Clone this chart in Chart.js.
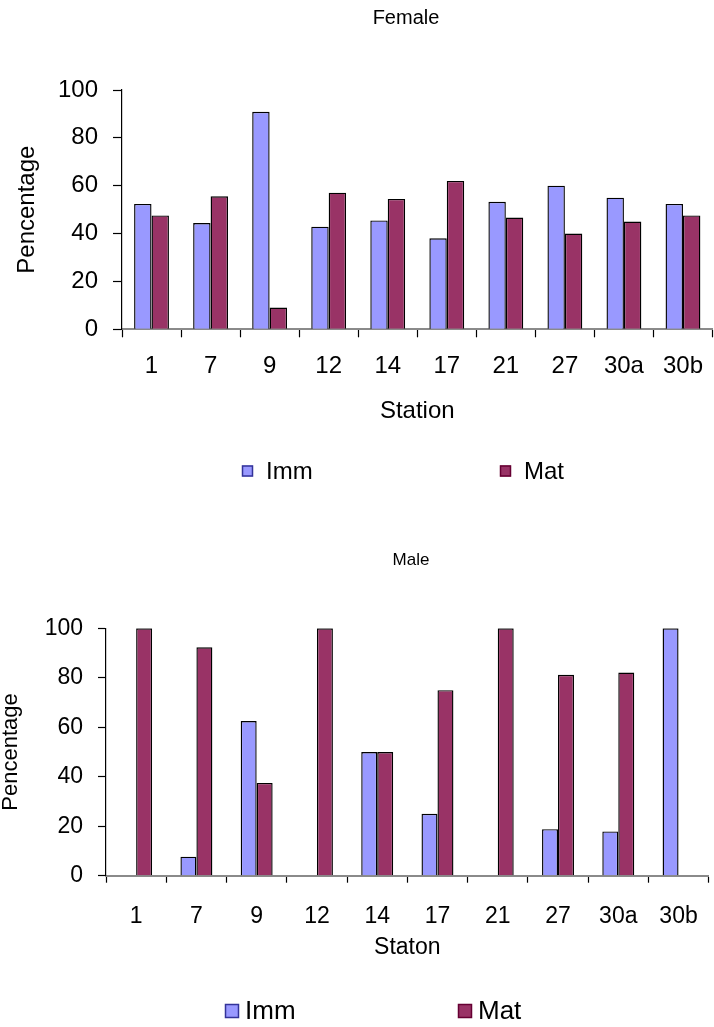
<!DOCTYPE html>
<html>
<head>
<meta charset="utf-8">
<script src="https://cdn.jsdelivr.net/npm/chart.js@4/dist/chart.umd.min.js"></script>
<style>
  html, body { margin: 0; padding: 0; background: #fff; overflow: hidden; width: 714px; height: 1027px; }
  .panel { position: absolute; left: 0; width: 718px; }
  #femalePanel { top: 0; height: 520px; }
  #malePanel { top: 540px; height: 487px; }
</style>
</head>
<body>
<div class="panel" id="femalePanel"><canvas id="female" width="718" height="520"></canvas></div>
<div class="panel" id="malePanel"><canvas id="male" width="718" height="487"></canvas></div>
<script>
// Sampling stations
const stations = ['1', '7', '9', '12', '14', '17', '21', '27', '30a', '30b'];

// Female maturity share (%) per station
const femaleImm = [52.4, 44.4, 90.9, 42.9, 45.5, 38.0, 53.3, 60.0, 55.0, 52.4];
const femaleMat = [47.6, 55.6, 9.1, 57.1, 54.5, 62.0, 46.7, 40.0, 45.0, 47.6];

// Male maturity share (%) per station
const maleImm = [0, 7.7, 62.5, 0, 50, 25, 0, 18.8, 17.9, 100];
const maleMat = [100, 92.3, 37.5, 100, 50, 75, 100, 81.2, 82.1, 0];

// Axis ticks and labels
const yTicks = [0, 20, 40, 60, 80, 100];
const seriesNames = ['Imm', 'Mat'];
const yTitle = 'Pencentage';

const FONT = "'Liberation Sans', Arial, sans-serif";
const IMM_COLOR = '#9999FF';
const MAT_COLOR = '#993366';

// Draws the panel caption and the legend row
const captionLegend = {
  id: 'captionLegend',
  afterDraw(chart, args, o) {
    const ctx = chart.ctx;
    ctx.save();
    ctx.fillStyle = '#000';
    ctx.font = o.titleSize + 'px ' + FONT;
    ctx.textAlign = 'center';
    ctx.textBaseline = 'middle';
    ctx.fillText(o.title, o.titleX, o.titleY);

    ctx.font = o.legendSize + 'px ' + FONT;
    ctx.textAlign = 'left';
    chart.data.datasets.forEach((ds, i) => {
      const x = o.legendX[i], y = o.legendY, s = o.box;
      ctx.fillStyle = ds.backgroundColor;
      ctx.fillRect(x, y - s / 2, s, s);
      ctx.strokeStyle = o.boxBorder[i];
      ctx.lineWidth = 1.5;
      ctx.strokeRect(x + 0.5, y - s / 2 + 0.5, s - 1, s - 1);
      ctx.fillStyle = '#000';
      ctx.fillText(ds.label, x + s + o.gap, y + 1);
    });
    ctx.restore();
  }
};

function buildChart(id, imm, mat, L) {
  return new Chart(document.getElementById(id), {
    type: 'bar',
    data: {
      labels: stations,
      datasets: [
        { label: seriesNames[0], data: imm, backgroundColor: IMM_COLOR, borderColor: '#000', borderWidth: 1.4,
          barPercentage: 1.0, categoryPercentage: L.catPct },
        { label: seriesNames[1], data: mat, backgroundColor: MAT_COLOR, borderColor: '#000', borderWidth: 1.4,
          barPercentage: 1.0, categoryPercentage: L.catPct }
      ]
    },
    options: {
      responsive: false,
      animation: false,
      layout: { padding: { top: L.padTop, bottom: L.padBottom, left: 0, right: L.padRight } },
      plugins: {
        legend: { display: false },
        tooltip: { enabled: false },
        title: { display: false },
        captionLegend: L.caption
      },
      scales: {
        x: {
          z: 1,
          offset: true,
          grid: { offset: true, drawOnChartArea: false, drawTicks: true, tickLength: L.xTickLen, tickColor: '#000', tickWidth: 1.2 },
          border: { color: '#8a8a8a', width: 2 },
          ticks: { color: '#000', font: { family: FONT, size: L.xTickSize }, padding: L.xTickPad, maxRotation: 0, autoSkip: false },
          title: { display: true, text: L.xTitle, color: '#000', font: { family: FONT, size: L.xTitleSize, lineHeight: 1.2 },
                   padding: { top: 0, bottom: L.xTitlePad } },
          afterFit(s) { s.height = L.xHeight; }
        },
        y: {
          min: 0,
          max: 100,
          afterBuildTicks(s) { s.ticks = yTicks.map(v => ({ value: v })); },
          grid: { drawOnChartArea: false, drawTicks: true, tickLength: L.yTickLen, tickColor: '#000', tickWidth: 1.2 },
          border: { color: '#000', width: 1.2 },
          ticks: { color: '#000', font: { family: FONT, size: L.yTickSize }, padding: L.yTickPad },
          title: { display: true, text: yTitle, color: '#000', font: { family: FONT, size: L.yTitleSize, lineHeight: L.yTitleLH },
                   padding: { top: L.yTitlePad, bottom: 0 } },
          afterFit(s) { s.width = L.yWidth; }
        }
      }
    },
    plugins: [captionLegend]
  });
}

buildChart('female', femaleImm, femaleMat, {
  catPct: 0.59,
  padTop: 90, padBottom: 90.7, padRight: 0,
  xTickLen: 8, xTickSize: 24, xTickPad: 15, xTitle: 'Station', xTitleSize: 24, xTitlePad: 4, xHeight: 100,
  yTickLen: 9, yTickSize: 24, yTickPad: 15, yTitleSize: 24, yTitleLH: 1.2, yTitlePad: 13, yWidth: 122,
  caption: {
    title: 'Female', titleSize: 20, titleX: 406, titleY: 18.5,
    legendSize: 24, legendX: [242, 500], legendY: 471, box: 11, gap: 13,
    boxBorder: ['#333399', '#660033']
  }
});

buildChart('male', maleImm, maleMat, {
  catPct: 0.53,
  padTop: 88.3, padBottom: 51.3, padRight: 5.3,
  xTickLen: 7, xTickSize: 23, xTickPad: 20, xTitle: 'Staton', xTitleSize: 23, xTitlePad: 14, xHeight: 100,
  yTickLen: 8, yTickSize: 23, yTickPad: 15, yTitleSize: 22, yTitleLH: 1.0, yTitlePad: 0, yWidth: 106,
  caption: {
    title: 'Male', titleSize: 17, titleX: 411, titleY: 20.5,
    legendSize: 26, legendX: [225, 458], legendY: 471, box: 14, gap: 6,
    boxBorder: ['#333399', '#660033']
  }
});
</script>
</body>
</html>
